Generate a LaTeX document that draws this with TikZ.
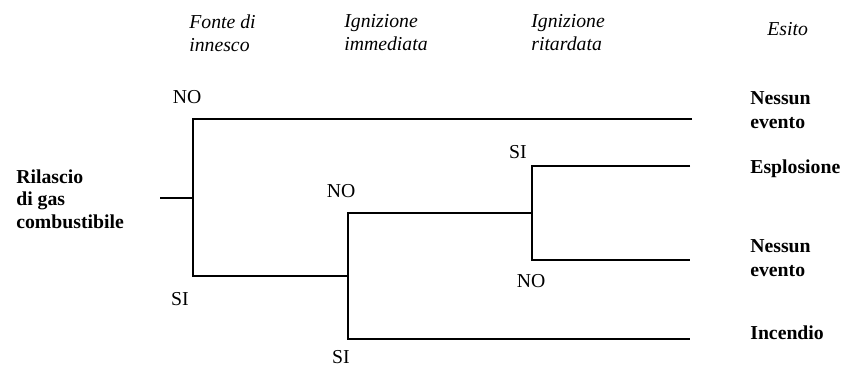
\documentclass[tikz,border=0pt]{standalone}
\usepackage{fontspec}
\setmainfont{Liberation Serif}
\usepackage{tikz}

\begin{document}
\begin{tikzpicture}[x=0.75pt, y=-0.75pt, line width=2pt,
    head/.style = {font=\fontsize{14.8}{17.5}\selectfont\itshape, align=left, inner sep=0pt},
    esito/.style = {font=\fontsize{14.8}{18}\selectfont\bfseries, align=left, inner sep=0pt, anchor=west},
    ramo/.style = {font=\fontsize{14.8}{17}\selectfont, inner sep=0pt}]
    \useasboundingbox (0,0) rectangle (845,373);
    % intestazioni
    \node[head, anchor=north west] (h1) at (188,13) {Fonte di\\innesco};
    \node[head, anchor=north west] (h2) at (343,13) {Ignizione\\immediata};
    \node[head, anchor=north west] (h3) at (530,13) {Ignizione\\ritardata};
    \node[head, anchor=north west] (h4) at (766,21) {Esito};
    % evento iniziale
    \node[esito, font=\fontsize{14.8}{17}\selectfont\bfseries] (rel) at (15,199) {Rilascio\\di gas\\combustibile};
    % nodi dell'albero
    \coordinate (r) at (160,198);
    \coordinate (a) at (193,198);
    \coordinate (b) at (348,276);
    \coordinate (c) at (532,213);
    \coordinate (e1) at (692,119);
    \coordinate (e2) at (690,166);
    \coordinate (e3) at (690,260);
    \coordinate (e4) at (690,339);
    \draw (r) -- (a);
    \draw (e1) -| (a) |- (b);
    \draw (c) -| (b) |- (e4);
    \draw (e2) -| (c) |- (e3);
    % risposte
    \node[ramo] (no1) at (187,97) {NO};
    \node[ramo] (si1) at (180,299) {SI};
    \node[ramo] (no2) at (341,191) {NO};
    \node[ramo] (si2) at (341,357) {SI};
    \node[ramo] (si3) at (518,152) {SI};
    \node[ramo] (no3) at (531,281) {NO};
    % esiti
    \node[esito] (o1) at (749,110) {Nessun\\evento};
    \node[esito] (o2) at (749,169) {Esplosione};
    \node[esito] (o3) at (749,258) {Nessun\\evento};
    \node[esito] (o4) at (749,333) {Incendio};
\end{tikzpicture}
\end{document}
